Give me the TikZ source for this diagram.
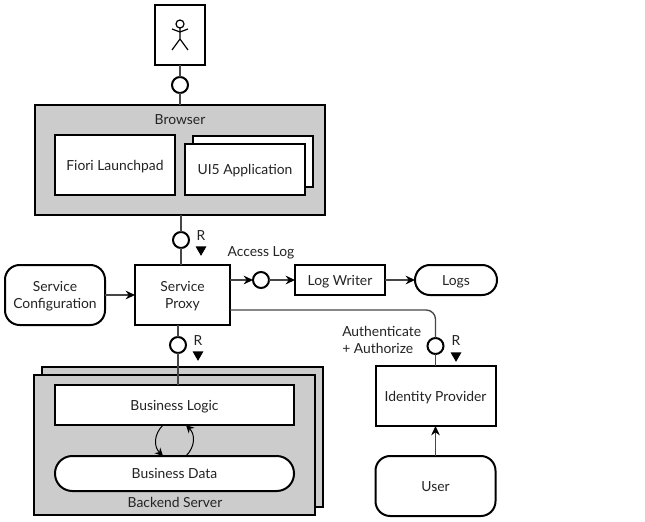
\documentclass[tikz,border=0pt]{standalone}
\usepackage{fontspec}
\setmainfont{Lato}
\usetikzlibrary{arrows.meta, shapes.geometric}
\definecolor{mygray}{RGB}{204,204,204}
\definecolor{myline}{RGB}{70,70,70}
\definecolor{mytext}{RGB}{35,35,35}
\tikzstyle{whitebox} = [draw=black, line width=1.5pt, fill=white, outer sep=0,
    inner sep=0, text=mytext, font=\fontsize{10.4}{12.7}\selectfont, align=center,
    text height=8pt, text depth=0pt]
\tikzstyle{graybox} = [whitebox, fill=mygray]
\tikzstyle{roundbox} = [whitebox, rounded corners=11pt]
\tikzstyle{twolines} = [text height=20.7pt]
\tikzstyle{port} = [draw=black, line width=1.5pt, fill=white, shape=circle,
    minimum size=12pt, inner sep=0, outer sep=0]
\tikzstyle{label} = [text=mytext, font=\fontsize{10.4}{12.7}\selectfont, inner sep=0, align=left]
\tikzstyle{dirmark} = [fill=black, shape=regular polygon, regular polygon sides=3,
    shape border rotate=180, minimum size=9.5pt, inner sep=0]
\tikzstyle{wire} = [draw=myline, line width=1pt]
\tikzstyle{flow} = [wire, -{Stealth[length=7pt,width=6.5pt,black]}]
\begin{document}
\begin{tikzpicture}[x=.75pt, y=-.75pt]
\useasboundingbox[fill=white] (0,0) rectangle (645,521);

% top: user and browser
\node[whitebox, minimum width=37.5pt, minimum height=45pt] (actor) at (180,35) {};
\draw[black, line width=.9pt] (180,24) circle (3pt);
\draw[black, line width=.9pt] (180,28) -- (180,39) -- (172,50);
\draw[black, line width=.9pt] (180,39) -- (188,50);
\draw[black, line width=.9pt] (172,29) -- (180,32) -- (188,29);

\node[port] (portBrowser) at (180,85) {};
\node[graybox, minimum width=217.5pt, minimum height=82.5pt] (browser) at (180,160) {};
\node[label] (browserText) at (180,119.5) {Browser};
\node[whitebox, minimum width=90pt, minimum height=45pt] (launchpad) at (115,165) {Fiori Launchpad};
\node[whitebox, minimum width=90pt, minimum height=38.25pt] (appBack) at (253,161.5) {};
\node[whitebox, minimum width=90pt, minimum height=38.25pt] (app) at (245,169.5) {UI5 Application};

\draw[wire] (actor) -- (portBrowser);
\draw[wire] (portBrowser) -- (browser);

% service proxy row
\node[whitebox, twolines, minimum width=71.25pt, minimum height=45pt] (proxy) at (182.5,295) {Service\\Proxy};
\node[roundbox, twolines, minimum width=75pt, minimum height=45pt] (config) at (55,295) {Service\\Configuration};
\node[port] (portProxy) at (181,240) {};
\node[label] (rProxy) at (201,236) {R};
\node[dirmark] (markProxy) at (201,249.5) {};

\node[port] (portLog) at (261,280) {};
\node[label] (accessText) at (261,253) {Access Log};
\node[whitebox, minimum width=67.5pt, minimum height=22.5pt] (writer) at (340,280) {Log Writer};
\node[roundbox, rounded corners=11.2pt, minimum width=61.5pt, minimum height=22.5pt] (logs) at (456,280) {Logs};

\draw[wire] (browser.south -| portProxy) -- (portProxy);
\draw[wire] (portProxy) -- (proxy.north -| portProxy);
\draw[flow] (config) -- (proxy);
\draw[flow] (proxy.east |- portLog) -- (portLog);
\draw[flow] (portLog) -- (writer);
\draw[flow] (writer) -- (logs);

% backend
\node[port] (portBackend) at (178,345) {};
\node[label] (rBackend) at (198,341) {R};
\node[dirmark] (markBackend) at (198,354.5) {};
\node[graybox, minimum width=210.75pt, minimum height=105pt] (backendBack) at (182.5,437) {};
\node[graybox, minimum width=210.75pt, minimum height=105pt] (backend) at (174.5,445) {};
\node[whitebox, minimum width=179.25pt, minimum height=30pt] (logic) at (174.5,405) {Business Logic};
\node[whitebox, rounded corners=13pt, minimum width=179.25pt, minimum height=26.25pt] (data) at (174.5,473.5) {Business Data};
\node[label] (backendText) at (175,502) {Backend Server};

\draw[wire] (proxy.south -| portBackend) -- (portBackend);
\draw[wire] (portBackend) -- (logic.north -| portBackend);
\draw[black, line width=.75pt, -{Stealth[length=6pt,width=6pt]}] ([xshift=-8.6pt]logic.south) to[out=225, in=135, looseness=1.1] ([xshift=-8.6pt]data.north);
\draw[black, line width=.75pt, -{Stealth[length=6pt,width=6pt]}] ([xshift=8.6pt]data.north) to[out=45, in=-45, looseness=1.1] ([xshift=8.6pt]logic.south);

% identity provider
\node[whitebox, minimum width=90pt, minimum height=45pt] (idp) at (435.5,396) {Identity Provider};
\node[roundbox, minimum width=90pt, minimum height=45pt] (user) at (435.5,486) {User};
\node[port] (portIdp) at (435.5,346) {};
\node[label] (rIdp) at (456,341) {R};
\node[dirmark] (markIdp) at (456,355.5) {};
\node[label, anchor=west] (authText) at (342,339.5) {Authenticate\\+ Authorize};
\coordinate (proxyOut) at (230,310);

\draw[wire, rounded corners=7pt] (proxyOut) -- (proxyOut -| portIdp) -- (portIdp);
\draw[wire] (portIdp) -- (idp);
\draw[flow] (user) -- (idp);

\end{tikzpicture}
\end{document}
